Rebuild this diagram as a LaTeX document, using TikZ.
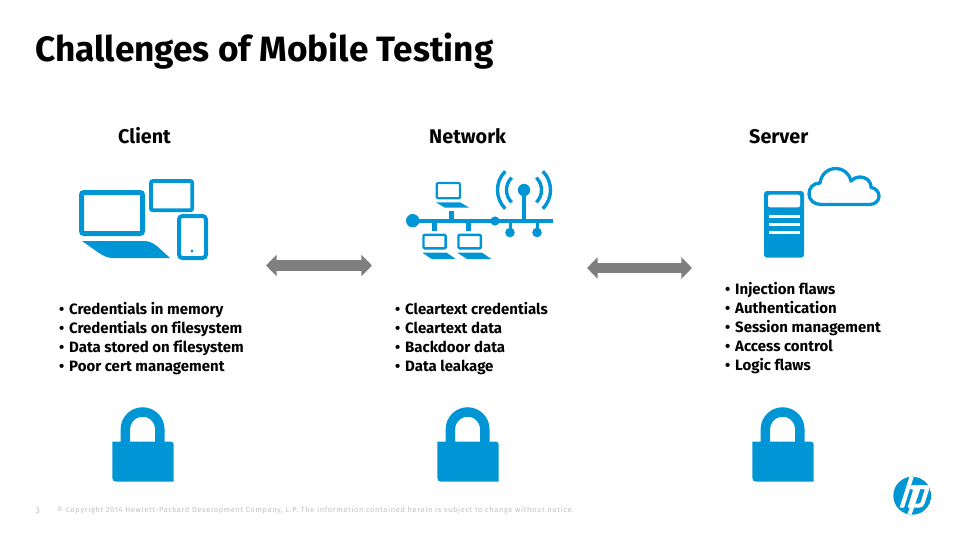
\documentclass[tikz,border=0pt]{standalone}
\usepackage{fontspec}
\setmainfont[Ligatures=NoCommon]{Fira Sans}
\newfontfamily\footfont[LetterSpace=9]{Fira Sans}
\usetikzlibrary{arrows.meta}
\definecolor{hpblue}{HTML}{0096D6}
\definecolor{arrowgray}{HTML}{7F7F7F}
\definecolor{footgray}{HTML}{C0C0C0}
\newcommand{\bul}[1]{\makebox[10pt][l]{\textbullet}#1}
\tikzset{
  titletext/.style={anchor=base west,inner sep=0pt,font=\fontsize{35.2}{40}\selectfont\bfseries},
  headtext/.style={anchor=base west,inner sep=0pt,font=\fontsize{19.8}{22}\selectfont\bfseries},
  listtext/.style={anchor=north west,inner sep=0pt,align=left,font=\fontsize{15}{19}\selectfont\bfseries},
  foottext/.style={anchor=base west,inner sep=0pt,text=footgray,font=\fontsize{7.4}{9}\selectfont\footfont},
  swap/.style={<->,>={Triangle[length=10.7pt,width=21pt]},line width=10.5pt,draw=arrowgray},
  iconline/.style={draw=hpblue,fill=none},
  iconfill/.style={fill=hpblue,draw=none}
}
\begin{document}
\begin{tikzpicture}[x=1pt,y=-1pt]
\useasboundingbox (0,0) rectangle (960,540);

\node[titletext] (title) at (35,61.5) {Challenges of Mobile Testing};
\node[headtext] (client) at (118,144) {Client};
\node[headtext] (network) at (429,144) {Network};
\node[headtext] (server) at (749,144) {Server};

\node[listtext] (clist) at (59,302.5) {\bul{Credentials in memory}\\\bul{Credentials on filesystem}\\\bul{Data stored on filesystem}\\\bul{Poor cert management}};
\node[listtext] (nlist) at (395,302.5) {\bul{Cleartext credentials}\\\bul{Cleartext data}\\\bul{Backdoor data}\\\bul{Data leakage}};
\node[listtext] (slist) at (725,282.5) {\bul{Injection flaws}\\\bul{Authentication}\\\bul{Session management}\\\bul{Access control}\\\bul{Logic flaws}};

% double arrows
\coordinate (a1) at (266,265.5);
\coordinate (a2) at (372,265.5);
\coordinate (b1) at (587,268);
\coordinate (b2) at (692,268);
\draw[swap] (a1) -- (a2);
\draw[swap] (b1) -- (b2);

% client icon
\draw[iconline,line width=5pt,rounded corners=2.5pt] (81.5,192.5) rectangle (142.5,233.5);
\fill[iconfill] (82,241) -- (143,241) .. controls (150,241) and (153,243) .. (158,247) -- (170,258) -- (113,258) .. controls (107,258) and (104,256) .. (99,253) -- cycle;
\draw[iconline,line width=3.8pt,rounded corners=2pt] (151,181) rectangle (192.3,210.3);
\draw[iconline,line width=4pt,rounded corners=3.5pt] (179,216) rectangle (206,258);
\fill[iconfill] (192,251) circle (1.7);

% network icon
\draw[hpblue,line width=4pt] (412.7,220.7) -- (553,220.7);
\fill[iconfill] (412.7,220.7) circle (6.7);
\fill[iconfill] (495,221) circle (4.6);
\draw[hpblue,line width=3pt] (510,221) -- (510,232);
\draw[hpblue,line width=3pt] (537,221) -- (537,232);
\fill[iconfill] (510,232.5) circle (4.8);
\fill[iconfill] (537,232.5) circle (4.8);
\draw[hpblue,line width=3.5pt] (524,190) -- (524,221);
\fill[iconfill] (524,190) circle (6.2);
\foreach \r/\w in {17.5/3.4,26.5/3.4}{
  \draw[hpblue,line width=\w pt] (524,190) ++(135:\r) arc[start angle=135,end angle=225,radius=\r];
  \draw[hpblue,line width=\w pt] (524,190) ++(45:\r) arc[start angle=45,end angle=-45,radius=\r];
}
% small laptops
\draw[hpblue,line width=5pt] (451.7,211) -- (451.7,221);
\draw[hpblue,line width=5pt] (434.3,221) -- (434.3,231);
\draw[hpblue,line width=5pt] (468.7,221) -- (468.7,231);
\draw[iconline,line width=2.2pt,rounded corners=1pt] (436.8,183.1) rectangle (460,198.2);
\fill[iconfill] (435.7,202.3) -- (460,202.3) -- (469.3,207.7) -- (445,207.7) -- cycle;
\draw[iconline,line width=2.4pt,rounded corners=1pt] (423.5,234.9) rectangle (445.6,248.3);
\fill[iconfill] (422.3,252.7) -- (446.7,252.7) -- (455.7,259) -- (431.7,259) -- cycle;
\draw[iconline,line width=2.4pt,rounded corners=1pt] (458.5,234.9) rectangle (480.8,248.3);
\fill[iconfill] (457.3,252.7) -- (482,252.7) -- (491.3,259) -- (467,259) -- cycle;

% server icon
\fill[iconfill,rounded corners=3pt] (764,191) -- (804,191) -- (804,257.7) -- (764,257.7) -- cycle;
\fill[white,rounded corners=2pt] (768,194.7) rectangle (800,207.3);
\fill[white] (769,215.3) rectangle (800,218.3);
\fill[white] (769,223.3) rectangle (800,226.3);
\fill[white] (769,231) rectangle (800,234);
\draw[hpblue,line width=3.3pt,line join=round] (821,204.5) -- (870,204.5)
  .. controls (875,204.5) and (879,200.5) .. (879,196.5)
  .. controls (879,191) and (875,188) .. (871,187.5)
  .. controls (871,180) and (865,177) .. (860,177)
  .. controls (856,177) and (853,179) .. (851,181)
  .. controls (849,173) and (843,168.5) .. (836,168.5)
  .. controls (827,168.5) and (821,175) .. (820,183)
  .. controls (813,183) and (809,188) .. (809,194)
  .. controls (809,200) and (814,204.5) .. (821,204.5) -- cycle;

% padlocks
\foreach \dx in {0,325,640}{
  \begin{scope}[xshift=\dx pt]
    \draw[hpblue,line width=9.5pt] (125.4,445) -- (125.4,429.2) arc[start angle=180,end angle=360,radius=17.2] -- (159.8,445);
    \fill[iconfill] (112.3,441.7) -- (170.7,441.7) .. controls (172.7,441.7) and (173.7,442.7) .. (173.7,444.7) -- (173.7,481.7) -- (116.3,481.7) .. controls (113.7,481.7) and (112.3,480.3) .. (112.3,477.7) -- cycle;
  \end{scope}
}

% footer
\node[foottext,font=\fontsize{8.5}{9}\selectfont\footfont] (page) at (35.5,513.5) {3};
\node[foottext] (copy) at (57,512) {© Copyright 2014 Hewlett-Packard Development Company, L.P. The information contained herein is subject to change without notice.};

% hp logo
\begin{scope}
  \clip (912.3,495.7) circle (19);
  \fill[hpblue] (912.3,495.7) circle (19);
  \begin{scope}[shift={(880,465)},x=0.3333pt,y=-0.3333pt]
    \fill[white] (88,36) -- (101,36) -- (72,128) -- (59,128) -- cycle;
    \fill[white] (80,72) .. controls (86,63) and (93,60) .. (102,60) -- (108,60) .. controls (113,60) and (115,65) .. (113,71) -- (95,128) -- (83,128) -- (99,76) .. controls (100,73) and (99,72) .. (96,72) -- (89,72) -- (78,78) -- cycle;
    \fill[white] (113,60) -- (125,60) -- (91,160) -- (78,160) -- cycle;
    \fill[white] (120,60) -- (140,60) .. controls (147,60) and (150,65) .. (148,71) -- (134,115) .. controls (131,123) and (126,128) .. (118,128) -- (102,128) -- (106,116) -- (117,116) .. controls (120,116) and (121,115) .. (122,112) -- (134,75) .. controls (135,73) and (134,72) .. (131,72) -- (118,72) -- cycle;
  \end{scope}
\end{scope}
\end{tikzpicture}
\end{document}
